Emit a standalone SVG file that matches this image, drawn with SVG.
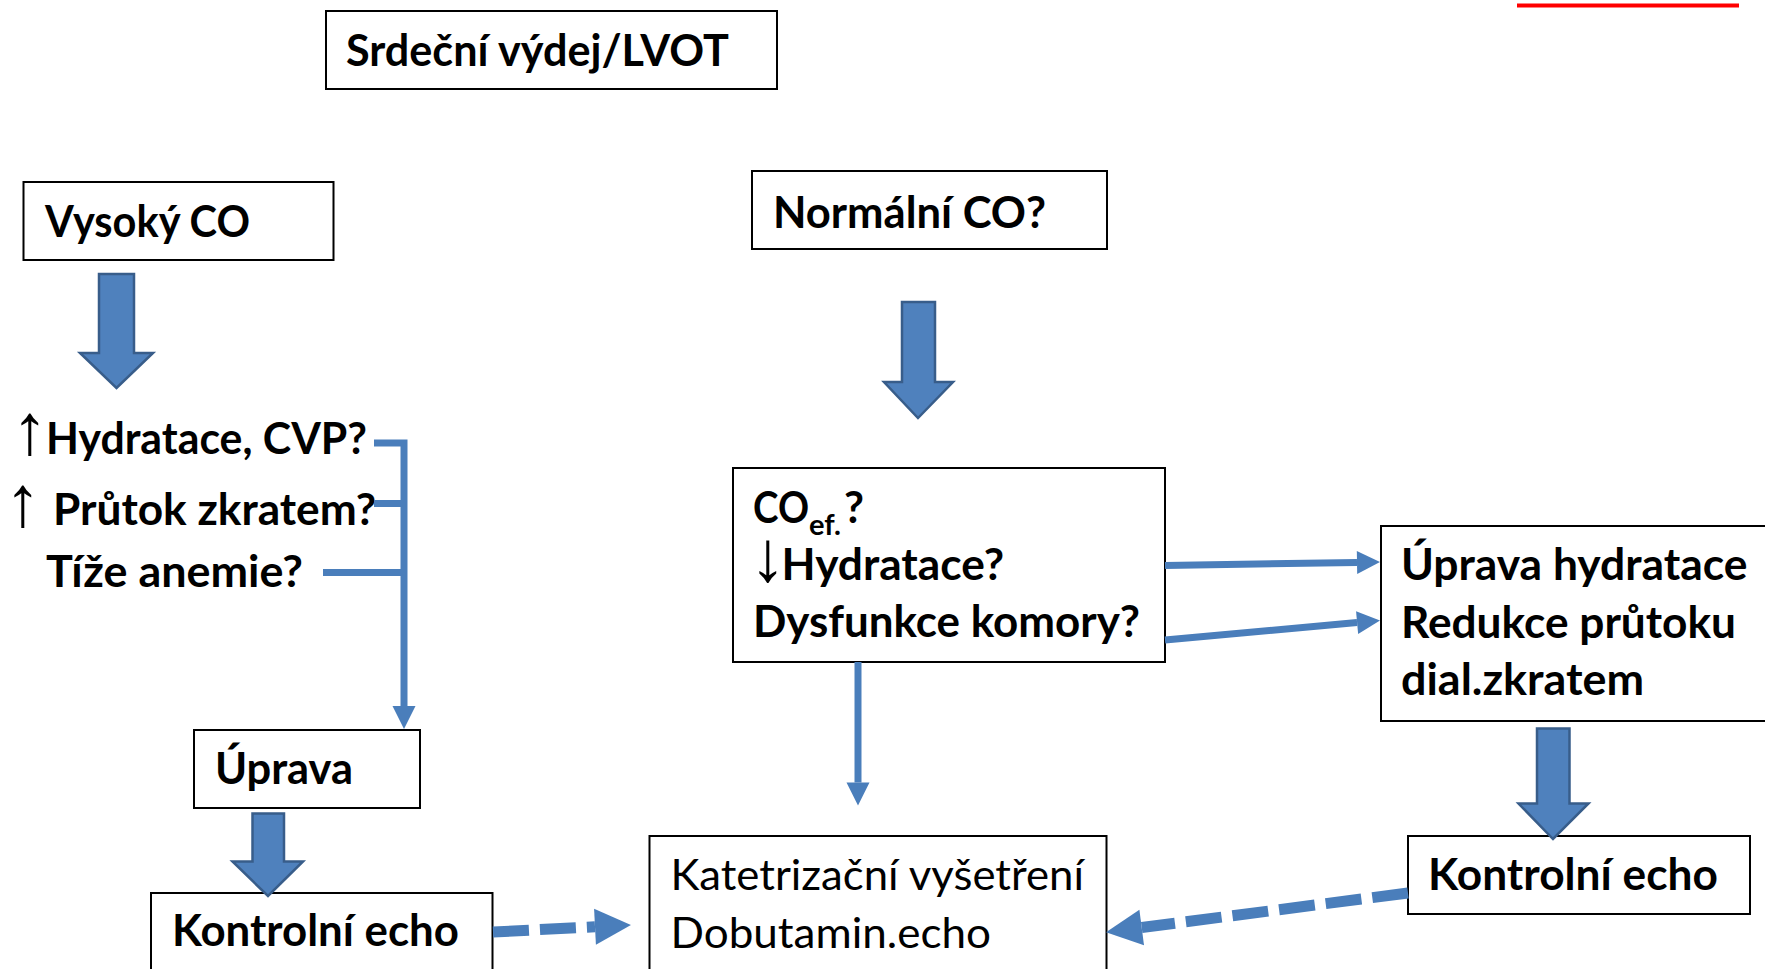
<svg xmlns="http://www.w3.org/2000/svg" width="1765" height="969" viewBox="0 0 1765 969">
<style>
.box{fill:#fff;stroke:#000;stroke-width:2}
.t{font-family:Lato,'Open Sans',sans-serif;font-weight:700;font-size:43px;fill:#000}
.r{font-weight:400}
.ar{font-family:'Liberation Sans','DejaVu Sans',sans-serif;font-size:72px;font-weight:400;fill:#000}
.blk{fill:#4F81BD;stroke:#385D8A;stroke-width:2.5}
.ln{stroke:#4A7EBB;stroke-width:7;fill:none}
.dash{stroke:#4A7EBB;stroke-width:11;stroke-dasharray:36 11;fill:none}
</style>
<defs>
<marker id="ah" markerUnits="userSpaceOnUse" markerWidth="30" markerHeight="30" refX="0" refY="12" orient="auto" overflow="visible">
<path d="M0,0.5 L23,12 L0,23.5 Z" fill="#4A7EBB"/>
</marker>
<marker id="ahd" markerUnits="userSpaceOnUse" markerWidth="40" markerHeight="40" refX="0" refY="18" orient="auto" overflow="visible">
<path d="M0,0 L36,18 L0,36 Z" fill="#4A7EBB"/>
</marker>
</defs>
<rect x="1517" y="3.5" width="222" height="4" fill="#FF0000"/>

<g id="title">
<rect class="box" x="326" y="11" width="451" height="78"/>
<text class="t" x="346" y="66" textLength="383" lengthAdjust="spacingAndGlyphs">Srdeční výdej/LVOT</text>
</g>
<g id="vysoky">
<rect class="box" x="23.5" y="182" width="310" height="78"/>
<text class="t" x="45" y="237" textLength="205" lengthAdjust="spacingAndGlyphs">Vysoký CO</text>
</g>
<g id="normalni">
<rect class="box" x="752" y="171" width="355" height="78"/>
<text class="t" x="773" y="228" textLength="273" lengthAdjust="spacingAndGlyphs">Normální CO?</text>
</g>
<g id="priciny">
<text class="ar" x="12" y="454">↑</text>
<text class="t" x="46" y="454" textLength="321" lengthAdjust="spacingAndGlyphs">Hydratace, CVP?</text>
<text class="ar" x="5" y="526">↑</text>
<text class="t" x="53" y="525" textLength="323" lengthAdjust="spacingAndGlyphs">Průtok zkratem?</text>
<text class="t" x="46" y="587" textLength="257" lengthAdjust="spacingAndGlyphs">Tíže anemie?</text>
</g>
<g id="uprava">
<rect class="box" x="194" y="730" width="226" height="78"/>
<text class="t" x="215" y="783.5" textLength="138" lengthAdjust="spacingAndGlyphs">Úprava</text>
</g>
<g id="kontrolni-levy">
<rect class="box" x="151" y="893" width="341.5" height="100"/>
<text class="t" x="172" y="946" textLength="287" lengthAdjust="spacingAndGlyphs">Kontrolní echo</text>
</g>
<g id="coef">
<rect class="box" x="733" y="468" width="432" height="194"/>
<text class="t" y="523"><tspan x="753" textLength="56" lengthAdjust="spacingAndGlyphs">CO</tspan><tspan x="809" dy="12" style="font-size:29px" textLength="32" lengthAdjust="spacingAndGlyphs">ef.</tspan><tspan x="844" dy="-12" textLength="20" lengthAdjust="spacingAndGlyphs">?</tspan></text>
<text class="ar" x="750" y="581">↓</text>
<text class="t" x="781.5" y="580" textLength="222.5" lengthAdjust="spacingAndGlyphs">Hydratace?</text>
<text class="t" x="753" y="637" textLength="387" lengthAdjust="spacingAndGlyphs">Dysfunkce komory?</text>
</g>
<g id="uprava-hydratace">
<rect class="box" x="1381" y="526" width="400" height="195"/>
<text class="t" x="1401" y="580" textLength="346.5" lengthAdjust="spacingAndGlyphs">Úprava hydratace</text>
<text class="t" x="1401" y="638" textLength="335" lengthAdjust="spacingAndGlyphs">Redukce průtoku</text>
<text class="t" x="1401" y="695" textLength="243" lengthAdjust="spacingAndGlyphs">dial.zkratem</text>
</g>
<g id="katetrizacni">
<rect class="box" x="649.5" y="836" width="457" height="160"/>
<text class="t r" x="670.5" y="890" textLength="413.5" lengthAdjust="spacingAndGlyphs">Katetrizační vyšetření</text>
<text class="t r" x="670.5" y="947.5" textLength="320.5" lengthAdjust="spacingAndGlyphs">Dobutamin.echo</text>
</g>
<g id="kontrolni-pravy">
<rect class="box" x="1408" y="836" width="342" height="78"/>
<text class="t" x="1428" y="890" textLength="290" lengthAdjust="spacingAndGlyphs">Kontrolní echo</text>
</g>

<g id="connectors">
<polygon class="blk" points="99,274 134,274 134,353 153,353 116.5,388 80,353 99,353"/>
<polygon class="blk" points="902,302 935,302 935,382 953,382 918,418 884,382 902,382"/>
<polygon class="blk" points="252.5,813.5 284,813.5 284,861.5 303,861.5 268,896 232.5,861.5 252.5,861.5"/>
<polygon class="blk" points="1537,728.5 1569.5,728.5 1569.5,803.5 1588.5,803.5 1553,839 1518.5,803.5 1537,803.5"/>
<path class="ln" d="M374,443 H404 V706" marker-end="url(#ah)"/>
<line class="ln" x1="374" y1="503.5" x2="404" y2="503.5"/>
<line class="ln" x1="323" y1="572.5" x2="404" y2="572.5"/>
<line class="ln" x1="858" y1="662" x2="858" y2="782.5" marker-end="url(#ah)"/>
<line class="ln" x1="1165" y1="565.5" x2="1357" y2="562.4" marker-end="url(#ah)"/>
<line class="ln" x1="1165" y1="640" x2="1357.1" y2="622.6" marker-end="url(#ah)"/>
<line class="dash" x1="493" y1="932" x2="595" y2="926.8" marker-end="url(#ahd)"/>
<line class="dash" x1="1408" y1="893" x2="1141.7" y2="927.5" marker-end="url(#ahd)"/>
</g>
</svg>
